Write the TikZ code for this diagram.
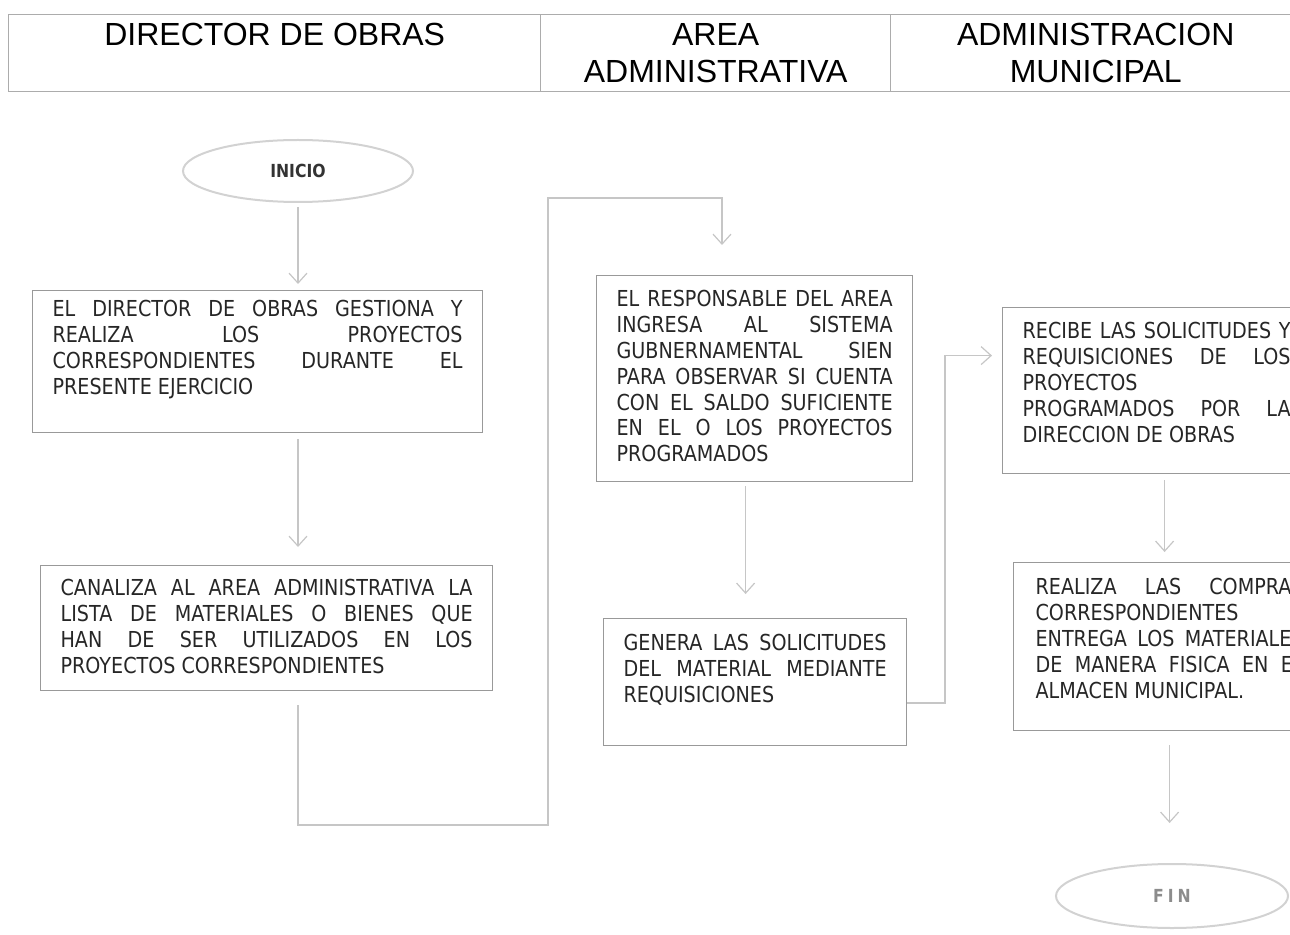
\documentclass[tikz,border=0pt]{standalone}
\usepackage{fontspec}
\setmainfont{DejaVu Sans}[FakeStretch=0.87]
\newfontfamily\headfont{Liberation Sans}
\usetikzlibrary{arrows.meta,positioning,shapes.geometric}
\hbadness=10000
\tikzstyle{headcell}=[draw=gray!65,line width=0.7pt,anchor=north west,inner sep=0pt,align=center,font=\headfont\fontsize{16}{18.5}\selectfont]
\tikzstyle{procbox}=[draw=gray!80,line width=0.6pt,anchor=north west,inner xsep=10pt,inner ysep=5pt,text=black!85,font=\fontsize{11}{12.9}\selectfont]
\tikzstyle{terminal}=[ellipse,draw=gray!35,line width=1pt,text=black!80,font=\bfseries\fontsize{9}{10}\selectfont]
\tikzstyle{flowline}=[draw=gray!45,line width=0.6pt,-{Straight Barb[length=5pt,width=9pt]}]
\newcommand{\boxtext}[3]{\parbox[t][#2][t]{#1}{#3}}

\begin{document}
\begin{tikzpicture}[x=0.5pt,y=-0.5pt]
		\clip (0,0) rectangle (1290,935);
		\node [headcell,minimum width=266pt,minimum height=38.5pt] (dirhead) at (8,14) {DIRECTOR DE OBRAS\\ \phantom{M}};
		\node [headcell,minimum width=175pt,minimum height=38.5pt] (areahead) at (540,14) {AREA\\ ADMINISTRATIVA};
		\node [headcell,minimum width=205pt,minimum height=38.5pt] (munihead) at (890,14) {ADMINISTRACION\\ MUNICIPAL};
		
		\node [terminal,minimum width=115pt,minimum height=31pt] (inicio) at (298,171) {INICIO};
		\node [procbox] (gestiona) at (32,290) {\boxtext{205pt}{61pt}{EL DIRECTOR DE OBRAS GESTIONA Y\linebreak REALIZA LOS PROYECTOS\linebreak CORRESPONDIENTES DURANTE EL\linebreak PRESENTE EJERCICIO}};
		\node [procbox,inner ysep=7pt] (canaliza) at (40,565) {\boxtext{206pt}{48.5pt}{CANALIZA AL AREA ADMINISTRATIVA LA\linebreak LISTA DE MATERIALES O BIENES QUE\linebreak HAN DE SER UTILIZADOS EN LOS\linebreak PROYECTOS CORRESPONDIENTES}};
		\node [procbox,inner ysep=7.5pt] (responsable) at (596,275) {\boxtext{138pt}{88pt}{EL RESPONSABLE DEL AREA\linebreak INGRESA AL SISTEMA\linebreak GUBNERNAMENTAL SIEN\linebreak PARA OBSERVAR SI CUENTA\linebreak CON EL SALDO SUFICIENTE\linebreak EN EL O LOS PROYECTOS\linebreak PROGRAMADOS}};
		\node [procbox,inner ysep=8pt] (genera) at (603,618) {\boxtext{131.5pt}{47.5pt}{GENERA LAS SOLICITUDES\linebreak DEL MATERIAL MEDIANTE\linebreak REQUISICIONES}};
		\node [procbox,inner ysep=7.5pt] (recibe) at (1002,307) {\boxtext{134pt}{68pt}{RECIBE LAS SOLICITUDES Y\linebreak REQUISICIONES DE LOS\linebreak PROYECTOS\\ PROGRAMADOS POR LA\linebreak DIRECCION DE OBRAS}};
		\node [procbox,inner xsep=11pt,inner ysep=8pt] (realiza) at (1013,562) {\boxtext{134pt}{68pt}{REALIZA LAS COMPRAS\linebreak CORRESPONDIENTES\\ ENTREGA LOS MATERIALES\linebreak DE MANERA FISICA EN EL\linebreak ALMACEN MUNICIPAL.}};
		\node [terminal,minimum width=116pt,minimum height=32pt,text=gray!90] (fin) at (1172,896) {F\hspace{2pt}I\hspace{2pt}N};
		
		\coordinate (backbend) at (548,825);
		\coordinate (topbend) at (722,198);
		\coordinate (sidebend) at (945,703);
		
		\draw [flowline,shorten <=2pt,shorten >=3pt] (inicio.south) -- (inicio.south |- gestiona.north);
		\draw [flowline,shorten <=3pt,shorten >=9pt] (gestiona.south -| inicio.south) -- (canaliza.north -| inicio.south);
		\draw [flowline,shorten <=7pt,shorten >=15pt] (canaliza.south -| inicio.south) |- (backbend) |- (topbend) -- (topbend |- responsable.north);
		\draw [flowline,shorten <=2pt,shorten >=12pt] ([xshift=-4.5pt]responsable.south) -- ([xshift=-4.5pt]responsable.south |- genera.north);
		\draw [flowline,shorten >=5pt] (genera.east |- sidebend) -- (sidebend) |- ([yshift=17.5pt]recibe.west);
		\draw [flowline,shorten <=3pt,shorten >=5pt] ([xshift=4pt]recibe.south) -- ([xshift=4pt]recibe.south |- realiza.north);
		\draw [flowline,shorten <=7pt,shorten >=20pt] (realiza.south) -- (realiza.south |- fin.north);
\end{tikzpicture}
\end{document}
